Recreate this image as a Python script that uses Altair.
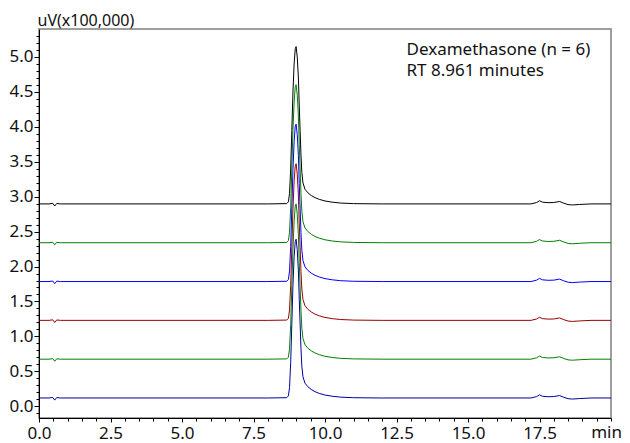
import altair as alt
import pandas as pd

# Shared chromatogram profile (signal above each trace's baseline, x100,000 uV)
times = [0.0, 0.35, 0.48, 0.55, 0.62, 0.75, 8.0, 8.66, 8.72, 8.76, 8.80, 8.84, 8.88, 8.92, 8.96, 8.99,
         9.03, 9.07, 9.10, 9.13, 9.16, 9.19, 9.23, 9.30, 9.40, 9.52, 9.65, 9.80, 10.0, 10.25, 10.55, 11.0, 12.0,
         17.2, 17.4, 17.5, 17.6, 17.8, 18.0, 18.2, 18.35, 18.5, 18.65, 18.9, 19.3, 20.0]
profile = [0, 0, 0.008, -0.03, 0.006, 0, 0, 0.004, 0.03, 0.15, 0.5, 1.05, 1.6, 2.0, 2.22, 2.25,
           2.1, 1.8, 1.4, 1.05, 0.7, 0.45, 0.3, 0.21, 0.16, 0.12, 0.09, 0.065, 0.042, 0.025, 0.012, 0.004, 0,
           0, 0.02, 0.045, 0.025, 0.018, 0.02, 0.035, 0.01, -0.01, -0.015, -0.008, 0.0, 0.0]

traces = ["run1", "run2", "run3", "run4", "run5", "run6"]
baselines = [0.12, 0.675, 1.23, 1.785, 2.34, 2.895]
heights = [2.27, 2.22, 2.24, 2.25, 2.26, 2.25]
colors = ["#0000a0", "#008000", "#990000", "#0000ff", "#008000", "#000000"]

y_major = [0.0, 0.5, 1.0, 1.5, 2.0, 2.5, 3.0, 3.5, 4.0, 4.5, 5.0]
y_minor = [round(-0.1 + 0.1 * i, 1) for i in range(55)]
x_major = [0.0, 2.5, 5.0, 7.5, 10.0, 12.5, 15.0, 17.5]
x_minor = [0.5 * i for i in range(41)]
x_unit = "min"

rows = []
for k, name in enumerate(traces):
    for t, v in zip(times, profile):
        rows.append({"trace": name, "order": k, "t": t, "uv": baselines[k] + v * heights[k] / 2.25})
df = pd.DataFrame(rows)

FONT = "Noto Sans"
FS = 17
Y_LO, Y_HI = -0.166, 5.396
xs = alt.Scale(domain=[0, 20], nice=False, zero=False)
ys = alt.Scale(domain=[Y_LO, Y_HI], nice=False, zero=False)

lines = alt.Chart(df).mark_line(strokeWidth=1, clip=True).encode(
    x=alt.X("t:Q", scale=xs, axis=alt.Axis(
        orient="bottom", values=x_major, format=".1f", title=None, grid=False,
        tickSize=4, tickColor="#000", domainColor="#000", labelFont=FONT, labelFontSize=FS,
        labelColor="#111", labelPadding=3, labelFlush=False)),
    y=alt.Y("uv:Q", scale=ys, axis=alt.Axis(
        orient="left", values=y_major, format=".1f", grid=False,
        title="uV(x100,000)", titleAngle=0, titleX=-2, titleY=-4, titleAlign="left",
        titleBaseline="alphabetic", titleFont=FONT, titleFontSize=16, titleFontWeight="normal",
        titleColor="#111", tickSize=5, tickColor="#000", domainColor="#000",
        labelFont=FONT, labelFontSize=FS, labelColor="#111", labelPadding=1)),
    color=alt.Color("trace:N", scale=alt.Scale(domain=traces, range=colors), legend=None),
    detail="trace:N",
)

minor = alt.Chart(df).mark_point(opacity=0).encode(
    x=alt.X("t:Q", scale=xs, axis=alt.Axis(
        orient="bottom", values=x_minor, labels=False, domain=False, grid=False,
        tickSize=3, tickColor="#000", title=None)),
    y=alt.Y("uv:Q", scale=ys, axis=alt.Axis(
        orient="left", values=y_minor, labels=False, domain=False, grid=False,
        tickSize=3, tickColor="#000", title=None)),
)

notes = pd.DataFrame({"t": [12.85, 12.85], "uv": [5.1, 4.79],
                      "txt": ["Dexamethasone (n = 6)", "RT 8.961 minutes"]})
text = alt.Chart(notes).mark_text(align="left", baseline="middle", font=FONT,
                                  fontSize=FS, color="#111").encode(
    x=alt.X("t:Q", scale=xs, axis=None), y=alt.Y("uv:Q", scale=ys, axis=None), text="txt:N")

unit = pd.DataFrame({"t": [20.0], "uv": [Y_LO], "txt": [x_unit]})
unit_text = alt.Chart(unit).mark_text(align="right", baseline="top", font=FONT, fontSize=FS,
                                      color="#111", dx=11, dy=7).encode(
    x=alt.X("t:Q", scale=xs, axis=None), y=alt.Y("uv:Q", scale=ys, axis=None), text="txt:N")

chart = alt.layer(lines, minor, text, unit_text).resolve_axis(x="independent", y="independent").properties(
    width=572, height=389,
    autosize=alt.AutoSizeParams(type="none"),
    padding={"left": 31, "top": 21, "right": 11, "bottom": 26},
).configure_view(stroke="#808080", strokeWidth=1.5)

chart.save("out.html", embed_options={"renderer": "svg", "actions": False})
